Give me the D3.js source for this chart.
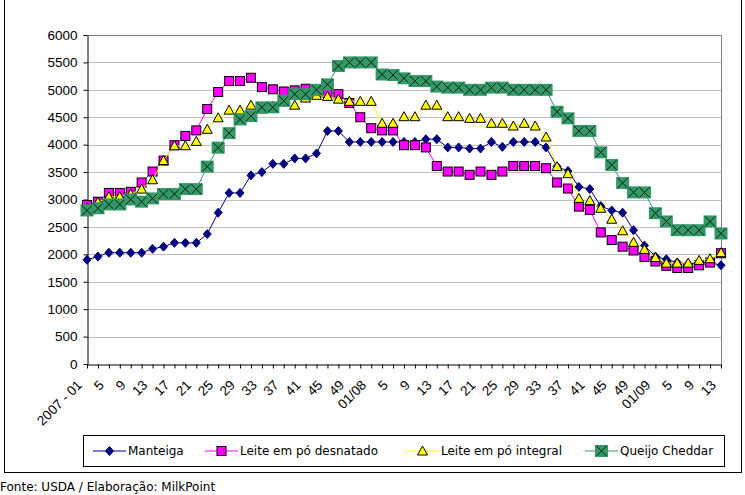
<!DOCTYPE html>
<html>
<head>
<meta charset="utf-8">
<script src="https://cdn.jsdelivr.net/npm/d3@7"></script>
<style>
  body { margin: 0; background: #fff; }
  svg { display: block; }
</style>
</head>
<body>
<div id="chart"></div>
<script>
// categorias (semanas, dados quinzenais)
const weeks = ["2007 - 01","3","5","7","9","11","13","15","17","19","21","23","25","27","29","31","33","35","37","39","41","43","45","47","49","51",
  "01/08","3","5","7","9","11","13","15","17","19","21","23","25","27","29","31","33","35","37","39","41","43","45","47","49","51",
  "01/09","3","5","7","9","11","13"];

const manteiga = [1900,1960,2030,2030,2030,2030,2100,2140,2210,2210,2210,2370,2760,3120,3120,3440,3500,3650,3650,3750,3750,3840,4250,4250,4050,4050,
  4050,4050,4050,4050,4050,4100,4100,3950,3950,3930,3930,4050,3960,4050,4050,4050,3950,3600,3520,3230,3190,2880,2800,2760,2440,2160,
  1960,1910,1850,1830,1850,1850,1800];

const desnatado = [2900,2960,3120,3120,3140,3310,3510,3710,3990,4160,4260,4650,4960,5160,5160,5220,5050,5010,4970,4990,5020,4960,4940,4920,4760,4500,
  4300,4260,4260,3990,3990,3950,3610,3510,3510,3450,3510,3450,3510,3610,3610,3610,3570,3310,3200,2870,2810,2400,2260,2140,2070,1950,
  1870,1790,1750,1750,1800,1850,2020];

const integral = [2850,2950,3050,3050,3100,3190,3360,3710,3980,3980,4060,4280,4490,4630,4630,4720,4650,4700,4780,4720,4850,4900,4880,4830,4790,4790,
  4790,4390,4390,4510,4510,4720,4720,4510,4510,4480,4480,4390,4390,4340,4390,4340,4140,3600,3470,3020,2980,2840,2640,2430,2220,2090,
  1940,1840,1840,1840,1890,1920,2030];

const cheddar = [2800,2840,2910,2910,3000,2960,3020,3100,3100,3190,3190,3600,3945,4210,4460,4520,4680,4680,4800,4920,4920,5000,5100,5435,5500,5500,
  5500,5280,5270,5210,5160,5160,5060,5040,5040,5000,5000,5040,5040,5000,5000,5000,5000,4600,4480,4250,4250,3860,3630,3300,3130,3130,
  2750,2600,2440,2440,2440,2600,2380];

const yTicks = [0,500,1000,1500,2000,2500,3000,3500,4000,4500,5000,5500,6000];

const series = [
  {name: "Manteiga", values: manteiga, color: "#000080", marker: "diamond"},
  {name: "Leite em pó desnatado", values: desnatado, color: "#FF00FF", marker: "square"},
  {name: "Leite em pó integral", values: integral, color: "#FFFF00", marker: "triangle"},
  {name: "Queijo Cheddar", values: cheddar, color: "#339966", marker: "xbox"}
];

const width = 745, height = 495;
const margin = {top: 35, right: 24, bottom: 131, left: 87};

const svg = d3.select("#chart").append("svg")
  .attr("width", width)
  .attr("height", height);

// moldura do gráfico
svg.append("rect")
  .attr("x", 4.5).attr("y", -2)
  .attr("width", 737).attr("height", 474.5)
  .attr("fill", "none").attr("stroke", "#000");

const x = d3.scalePoint(d3.range(weeks.length), [margin.left, width - margin.right]);
const y = d3.scaleLinear([0, 6000], [height - margin.bottom, margin.top]);

// grade
svg.append("g")
  .selectAll("line")
  .data(yTicks.filter(d => d > 0 && d < 6000))
  .join("line")
    .attr("x1", margin.left).attr("x2", width - margin.right)
    .attr("y1", d => Math.round(y(d)) + 0.5).attr("y2", d => Math.round(y(d)) + 0.5)
    .attr("stroke", "#C0C0C0");

// borda do plot (topo e direita)
svg.append("path")
  .attr("d", `M${margin.left},${Math.round(y(6000)) + 0.5}H${width - margin.right + 0.5}V${y(0)}`)
  .attr("fill", "none").attr("stroke", "#808080");

// eixo y
const yAxis = svg.append("g")
  .attr("transform", `translate(${margin.left + 0.5},0)`)
  .call(d3.axisLeft(y).tickValues(yTicks).tickFormat(d3.format("d")).tickSize(4).tickPadding(6).tickSizeOuter(0));
yAxis.selectAll("text").style("font", "13.5px 'Liberation Sans', Arial, sans-serif").attr("fill", "#000");
yAxis.selectAll("line, path").attr("stroke", "#000");

// eixo x
const xAxis = svg.append("g")
  .attr("transform", `translate(0,${Math.round(y(0)) + 0.5})`)
  .call(d3.axisBottom(x).tickSize(4).tickSizeOuter(0).tickFormat(i => i % 2 === 0 ? weeks[i] : ""));
xAxis.selectAll("line, path").attr("stroke", "#000");
xAxis.selectAll("text")
  .style("font", "13.5px 'Liberation Sans', Arial, sans-serif")
  .attr("fill", "#000")
  .attr("text-anchor", "end")
  .attr("dy", "0.35em")
  .attr("transform", "translate(-8,18) rotate(-45)")
  .attr("y", 0).attr("x", 0);

function drawMarker(g, type, color) {
  if (type === "diamond") {
    g.append("path").attr("d", "M0,-4.5L4,0L0,4.5L-4,0Z").attr("fill", color).attr("stroke", color);
  } else if (type === "square") {
    g.append("rect").attr("x", -4.5).attr("y", -4.5).attr("width", 9).attr("height", 9)
      .attr("fill", color).attr("stroke", "#000").attr("stroke-width", 1);
  } else if (type === "triangle") {
    g.append("path").attr("d", "M0,-5L5,4L-5,4Z").attr("fill", color).attr("stroke", "#000").attr("stroke-width", 1);
  } else {
    g.append("rect").attr("x", -6.5).attr("y", -6).attr("width", 13).attr("height", 12).attr("fill", color);
    g.append("path").attr("d", "M-5,-5L5,5M5,-5L-5,5").attr("stroke", "#000").attr("stroke-width", 0.8);
  }
}

const line = d3.line().x((d, i) => x(i)).y(d => y(d));

for (const s of series) {
  const g = svg.append("g");
  g.append("path")
    .attr("d", line(s.values))
    .attr("fill", "none")
    .attr("stroke", s.color)
    .attr("stroke-width", 1);
  g.selectAll("g")
    .data(s.values)
    .join("g")
      .attr("transform", (d, i) => `translate(${x(i)},${y(d)})`)
      .each(function() { drawMarker(d3.select(this), s.marker, s.color); });
}

// legenda
const legend = svg.append("g");
legend.append("rect")
  .attr("x", 83.5).attr("y", 435.5).attr("width", 641).attr("height", 31)
  .attr("fill", "#fff").attr("stroke", "#000");
const legendX = [93, 205, 406, 585];
series.forEach((s, k) => {
  const lg = legend.append("g").attr("transform", `translate(${legendX[k]},451)`);
  lg.append("line").attr("x1", 0).attr("x2", 33).attr("stroke", s.color);
  const m = lg.append("g").attr("transform", "translate(16.5,0)");
  drawMarker(m, s.marker, s.color);
  lg.append("text")
    .attr("x", 35).attr("dy", "0.35em")
    .style("font", "12px 'DejaVu Sans', Verdana, sans-serif")
    .text(s.name);
});

svg.append("text")
  .attr("x", 0).attr("y", 487).attr("dy", "0.35em")
  .style("font", "12px 'DejaVu Sans', Verdana, sans-serif")
  .text("Fonte: USDA / Elaboração: MilkPoint");
</script>
</body>
</html>
